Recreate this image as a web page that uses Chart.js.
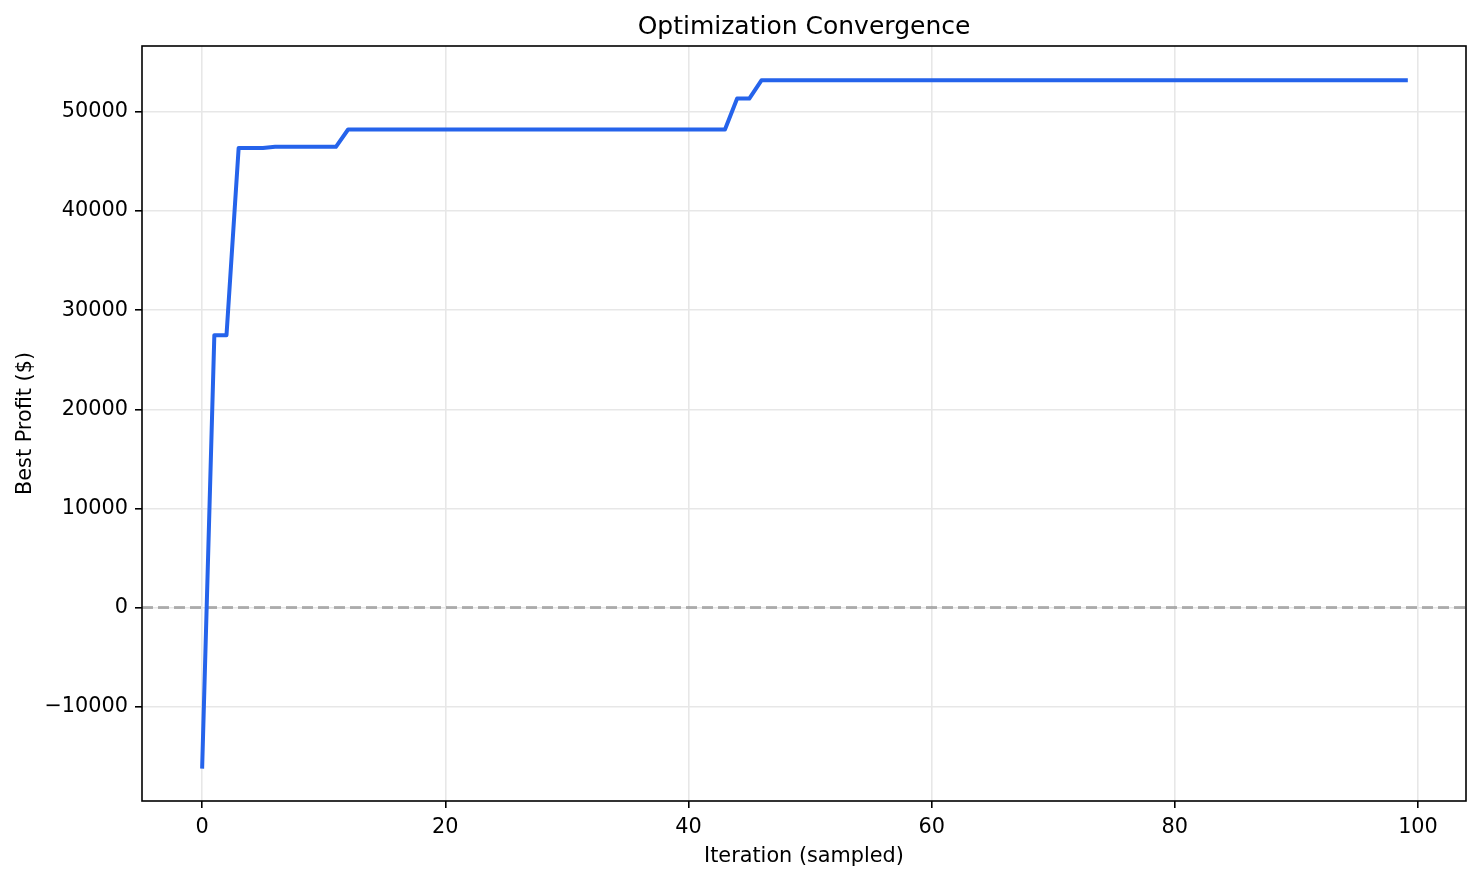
<!DOCTYPE html>
<html>
<head>
<meta charset="utf-8">
<script src="https://cdn.jsdelivr.net/npm/chart.js@4.4.1/dist/chart.umd.min.js"></script>
<style>
  html, body { margin: 0; padding: 0; background: #ffffff; }
  #wrap { width: 1482px; height: 883px; }
</style>
</head>
<body>
<div id="wrap"><canvas id="c" width="1482" height="883"></canvas></div>
<script>
// ---- data ----
const iterations = [0,1,2,3,4,5,6,7,8,9,10,11,12,13,14,15,16,17,18,19,20,21,22,23,24,25,26,27,28,29,30,31,32,33,34,35,36,37,38,39,40,41,42,43,44,45,46,47,48,49,50,51,52,53,54,55,56,57,58,59,60,61,62,63,64,65,66,67,68,69,70,71,72,73,74,75,76,77,78,79,80,81,82,83,84,85,86,87,88,89,90,91,92,93,94,95,96,97,98,99];
const bestProfit = [
  -16050, 27480, 27480, 46370, 46370, 46370, 46480, 46480, 46480, 46480,
  46480, 46480, 48230, 48230, 48230, 48230, 48230, 48230, 48230, 48230,
  48230, 48230, 48230, 48230, 48230, 48230, 48230, 48230, 48230, 48230,
  48230, 48230, 48230, 48230, 48230, 48230, 48230, 48230, 48230, 48230,
  48230, 48230, 48230, 48230, 51350, 51350, 53190, 53190, 53190, 53190,
  53190, 53190, 53190, 53190, 53190, 53190, 53190, 53190, 53190, 53190,
  53190, 53190, 53190, 53190, 53190, 53190, 53190, 53190, 53190, 53190,
  53190, 53190, 53190, 53190, 53190, 53190, 53190, 53190, 53190, 53190,
  53190, 53190, 53190, 53190, 53190, 53190, 53190, 53190, 53190, 53190,
  53190, 53190, 53190, 53190, 53190, 53190, 53190, 53190, 53190, 53190
];
const xTickValues = [0, 20, 40, 60, 80, 100];
const yTickValues = [-10000, 0, 10000, 20000, 30000, 40000, 50000];
const zeroLineValue = 0;

// ---- derived axis limits (matplotlib-style 5% margins) ----
const xLo = Math.min(...iterations), xHi = Math.max(...iterations);
const xPad = (xHi - xLo) * 0.05;
const yLo = Math.min(...bestProfit), yHi = Math.max(...bestProfit);
const yPad = (yHi - yLo) * 0.05;
const xMin = xLo - xPad, xMax = xHi + xPad;
const yMin = yLo - yPad, yMax = yHi + yPad;

const FONT = "'DejaVu Sans', 'Liberation Sans', sans-serif";

const points = iterations.map((x, i) => ({ x: x, y: bestProfit[i] }));
const zeroLine = [{ x: xMin, y: zeroLineValue }, { x: xMax, y: zeroLineValue }];

const framePlugin = {
  id: 'frame',
  afterDraw(chart) {
    const { ctx, chartArea: a } = chart;
    ctx.save();
    ctx.strokeStyle = '#000000';
    ctx.lineWidth = 1.6;
    ctx.strokeRect(a.left, a.top, a.right - a.left, a.bottom - a.top);
    ctx.restore();
  }
};

const fmt = v => (v < 0 ? '\u2212' + Math.abs(v) : String(v));

new Chart(document.getElementById('c'), {
  type: 'line',
  data: {
    datasets: [
      {
        data: zeroLine,
        borderColor: 'rgba(128,128,128,0.58)',
        borderWidth: 3,
        borderDash: [11, 5],
        pointRadius: 0,
        tension: 0,
        order: 2
      },
      {
        data: points,
        borderColor: '#2563eb',
        borderWidth: 4,
        pointRadius: 0,
        tension: 0,
        borderJoinStyle: 'round',
        borderCapStyle: 'square',
        order: 1
      }
    ]
  },
  options: {
    responsive: false,
    animation: false,
    devicePixelRatio: 1,
    layout: { padding: { left: 0, right: 16, top: 0, bottom: 0 } },
    plugins: {
      legend: { display: false },
      tooltip: { enabled: false },
      title: {
        display: true,
        text: 'Optimization Convergence',
        color: '#000000',
        fullSize: false,
        font: { family: FONT, size: 25, weight: 'normal', lineHeight: 1.2 },
        padding: { top: 12, bottom: 4 }
      }
    },
    scales: {
      x: {
        type: 'linear',
        min: xMin,
        max: xMax,
        afterBuildTicks: s => { s.ticks = xTickValues.map(v => ({ value: v })); },
        afterFit: s => { s.height = 82; },
        border: { display: false },
        grid: {
          color: '#e7e7e7',
          lineWidth: 1.6,
          drawTicks: true,
          tickLength: 7,
          tickColor: '#000000',
          tickWidth: 1.6
        },
        ticks: {
          color: '#000000',
          padding: 7,
          maxRotation: 0,
          font: { family: FONT, size: 20.8 },
          callback: v => fmt(v)
        },
        title: {
          display: true,
          text: 'Iteration (sampled)',
          color: '#000000',
          font: { family: FONT, size: 20.8, lineHeight: 1.2 },
          padding: { top: 13.5, bottom: 13.5 }
        }
      },
      y: {
        type: 'linear',
        min: yMin,
        max: yMax,
        afterBuildTicks: s => { s.ticks = yTickValues.map(v => ({ value: v })); },
        afterFit: s => { s.width = 142; },
        border: { display: false },
        grid: {
          color: '#e7e7e7',
          lineWidth: 1.6,
          drawTicks: true,
          tickLength: 7,
          tickColor: '#000000',
          tickWidth: 1.6
        },
        ticks: {
          color: '#000000',
          padding: 7,
          font: { family: FONT, size: 20.8 },
          callback: v => fmt(v)
        },
        title: {
          display: true,
          text: 'Best Profit ($)',
          color: '#000000',
          font: { family: FONT, size: 20.8, lineHeight: 1.2 },
          padding: { top: 13.5, bottom: 13.5 }
        }
      }
    }
  },
  plugins: [framePlugin]
});
</script>
</body>
</html>
